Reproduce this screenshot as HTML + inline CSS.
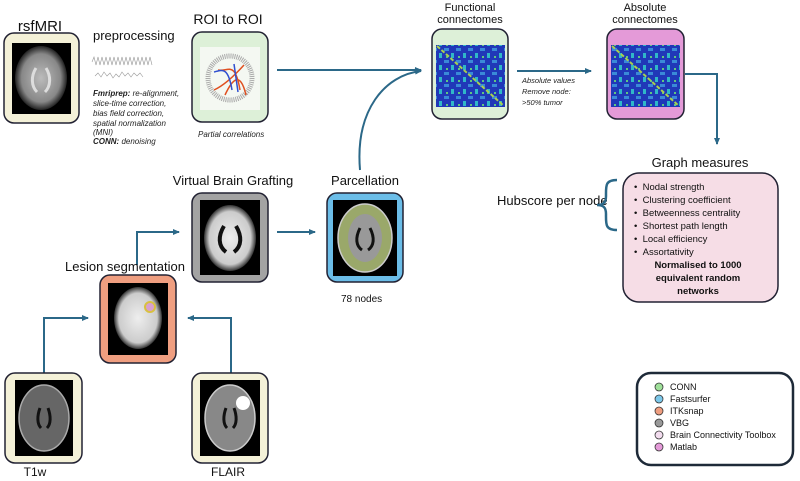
<!DOCTYPE html>
<html><head><meta charset="utf-8"><style>
body{margin:0;background:#fff;}
svg{display:block;font-family:"Liberation Sans",sans-serif;}
</style></head><body>
<svg width="800" height="481" viewBox="0 0 800 481" xmlns="http://www.w3.org/2000/svg">
<defs>
<marker id="a" markerWidth="8" markerHeight="8" refX="6" refY="4" orient="auto" markerUnits="userSpaceOnUse"><path d="M0,1 L7,4 L0,7 z" fill="#2b6888"/></marker>
<radialGradient id="brain" cx="50%" cy="50%" r="50%"><stop offset="0" stop-color="#bbb"/><stop offset="0.75" stop-color="#888"/><stop offset="1" stop-color="#222"/></radialGradient>
<radialGradient id="brainw" cx="50%" cy="50%" r="50%"><stop offset="0" stop-color="#eee"/><stop offset="0.8" stop-color="#ccc"/><stop offset="1" stop-color="#333"/></radialGradient>
<pattern id="mat" width="12" height="12" patternUnits="userSpaceOnUse"><rect width="12" height="12" fill="#2038b8"/><rect x="0" y="0" width="5" height="3" fill="#3a8ad8"/><rect x="7" y="5" width="3" height="5" fill="#30b8c8"/><rect x="2" y="8" width="2" height="2" fill="#60c880"/></pattern>
</defs>
<g fill="none" stroke="#2b6888" stroke-width="2">
<path d="M277,70 H421" marker-end="url(#a)"/>
<path d="M360,170 C355,110 385,75 421,71" marker-end="url(#a)"/>
<path d="M517,71 H591" marker-end="url(#a)"/>
<path d="M685,74 H717 V144" marker-end="url(#a)"/>
<path d="M44,373 V318 H88" marker-end="url(#a)"/>
<path d="M231,373 V318 H188" marker-end="url(#a)"/>
<path d="M137,265 V232 H179" marker-end="url(#a)"/>
<path d="M277,232 H315" marker-end="url(#a)"/>
</g>
<!-- rsfMRI -->
<text x="40" y="31" font-size="15" text-anchor="middle" fill="#111">rsfMRI</text>
<rect x="4" y="33" width="75" height="90" rx="10" fill="#f4f1d8" stroke="#223" stroke-width="1.5"/>
<rect x="12" y="43" width="59" height="71" fill="#000"/>
<ellipse cx="41" cy="78" rx="26" ry="32" fill="url(#brain)"/>
<path d="M36,68 C31,76 31,86 37,92 M46,68 C51,76 51,86 45,92" fill="none" stroke="#ddd" stroke-width="3"/>
<text x="93" y="40" font-size="13" fill="#111">preprocessing</text>
<path d="M92,62 l2,-5 2,8 2,-8 2,8 2,-8 2,8 2,-8 2,8 2,-8 2,8 2,-8 2,8 2,-8 2,8 2,-8 2,8 2,-8 2,8 2,-8 2,8 2,-8 2,8 2,-8 2,8 2,-8 2,8 2,-8 2,8 2,-8 2,8" fill="none" stroke="#999" stroke-width=".6"/>
<path d="M95,76 l3,-3 3,4 3,-5 3,4 3,-3 3,5 3,-4 3,3 3,-5 3,4 3,-3 3,4 3,-4 3,3 3,-3 3,4" fill="none" stroke="#999" stroke-width=".6"/>
<g font-size="8" font-style="italic" fill="#222">
<text x="93" y="96"><tspan font-weight="bold">Fmriprep:</tspan> re-alignment,</text>
<text x="93" y="106">slice-time correction,</text>
<text x="93" y="116">bias field correction,</text>
<text x="93" y="126">spatial normalization</text>
<text x="93" y="135">(MNI)</text>
<text x="93" y="144"><tspan font-weight="bold">CONN:</tspan> denoising</text>
</g>
<!-- ROI -->
<text x="228" y="24" font-size="14" text-anchor="middle" fill="#111">ROI to ROI</text>
<rect x="192" y="32" width="76" height="90" rx="10" fill="#ddf0d8" stroke="#223" stroke-width="1.5"/>
<rect x="200" y="47" width="60" height="63" fill="#f4f8f2"/>
<circle cx="230" cy="78" r="22" fill="none" stroke="#aaa" stroke-width="5" stroke-dasharray="1 1"/>
<path d="M218,70 C228,72 235,60 240,90 M225,95 C232,80 240,70 246,95 M214,90 C225,85 235,75 244,65" fill="none" stroke="#e05020" stroke-width="1.5"/>
<path d="M214,72 C222,70 228,66 232,90 M234,64 L238,92" fill="none" stroke="#3050d0" stroke-width="1.5"/>
<text x="198" y="137" font-size="8" font-style="italic" fill="#222">Partial correlations</text>
<!-- Functional -->
<text x="470" y="11" font-size="11" text-anchor="middle" fill="#111">Functional</text>
<text x="470" y="23" font-size="11" text-anchor="middle" fill="#111">connectomes</text>
<rect x="432" y="29" width="76" height="90" rx="10" fill="#ddf0d8" stroke="#223" stroke-width="1.5"/>
<rect x="436" y="45" width="69" height="62" fill="url(#mat)"/>
<path d="M437,46 L504,106" stroke="#a8d050" stroke-width="2" stroke-dasharray="4 2"/>
<text x="522" y="83" font-size="7.5" font-style="italic" fill="#222">Absolute values</text>
<text x="522" y="94" font-size="7.5" font-style="italic" fill="#222">Remove node:</text>
<text x="522" y="105" font-size="7.5" font-style="italic" fill="#222">&gt;50% tumor</text>
<!-- Absolute -->
<text x="645" y="11" font-size="11" text-anchor="middle" fill="#111">Absolute</text>
<text x="645" y="23" font-size="11" text-anchor="middle" fill="#111">connectomes</text>
<rect x="607" y="29" width="77" height="90" rx="10" fill="#e49ad8" stroke="#223" stroke-width="1.5"/>
<rect x="611" y="45" width="69" height="62" fill="url(#mat)"/>
<path d="M612,46 L679,106" stroke="#a8d050" stroke-width="2" stroke-dasharray="4 2"/>
<!-- Graph -->
<text x="700" y="167" font-size="13" text-anchor="middle" fill="#111">Graph measures</text>
<rect x="623" y="173" width="155" height="129" rx="16" fill="#f6dde6" stroke="#223" stroke-width="1.5"/>
<g font-size="9.5" fill="#111">
<text x="634" y="190">•&#160;&#160;Nodal strength</text>
<text x="634" y="203">•&#160;&#160;Clustering coefficient</text>
<text x="634" y="216">•&#160;&#160;Betweenness centrality</text>
<text x="634" y="229">•&#160;&#160;Shortest path length</text>
<text x="634" y="242">•&#160;&#160;Local efficiency</text>
<text x="634" y="255">•&#160;&#160;Assortativity</text>
<g font-weight="bold" text-anchor="middle"><text x="698" y="268">Normalised to 1000</text><text x="698" y="281">equivalent random</text><text x="698" y="294">networks</text></g>
</g>
<text x="497" y="205" font-size="13" fill="#111">Hubscore per node</text>
<path d="M617,180 C605,180 606,186 606,196 C606,203 603,205 597,205 C603,205 606,207 606,214 C606,224 605,230 617,230" fill="none" stroke="#2b6888" stroke-width="2.5"/>
<!-- VBG -->
<text x="233" y="185" font-size="13" text-anchor="middle" fill="#111">Virtual Brain Grafting</text>
<rect x="192" y="193" width="76" height="89" rx="10" fill="#a3a3a3" stroke="#223" stroke-width="1.5"/>
<rect x="200" y="200" width="60" height="75" fill="#000"/>
<ellipse cx="230" cy="238" rx="26" ry="33" fill="url(#brainw)"/>
<path d="M224,226 C218,236 218,246 226,252 M236,226 C242,236 242,246 234,252" fill="none" stroke="#111" stroke-width="4"/>
<!-- Parcellation -->
<text x="365" y="185" font-size="13" text-anchor="middle" fill="#111">Parcellation</text>
<rect x="327" y="193" width="76" height="89" rx="10" fill="#6bbde8" stroke="#223" stroke-width="1.5"/>
<rect x="333" y="200" width="64" height="76" fill="#000"/>
<ellipse cx="365" cy="238" rx="27" ry="34" fill="#9aa86a" stroke="#ccc" stroke-width="1.5"/>
<ellipse cx="365" cy="238" rx="17" ry="24" fill="#999"/>
<path d="M360,228 C355,238 356,246 362,250 M370,228 C375,238 374,246 368,250" fill="none" stroke="#111" stroke-width="3"/>
<text x="341" y="302" font-size="10" fill="#111">78 nodes</text>
<!-- Lesion -->
<text x="125" y="271" font-size="13" text-anchor="middle" fill="#111">Lesion segmentation</text>
<rect x="100" y="275" width="76" height="88" rx="10" fill="#ef9e80" stroke="#223" stroke-width="1.5"/>
<rect x="108" y="283" width="60" height="72" fill="#000"/>
<ellipse cx="138" cy="318" rx="24" ry="31" fill="url(#brainw)"/>
<circle cx="150" cy="307" r="5" fill="#d8a0d0" stroke="#d8c040" stroke-width="2"/>
<!-- T1w -->
<rect x="5" y="373" width="77" height="90" rx="10" fill="#f4f1d8" stroke="#223" stroke-width="1.5"/>
<rect x="15" y="380" width="58" height="76" fill="#000"/>
<ellipse cx="44" cy="418" rx="25" ry="33" fill="#666" stroke="#aaa" stroke-width="1.5"/>
<path d="M40,408 C37,416 37,424 41,428 M48,408 C51,416 51,424 47,428" fill="none" stroke="#111" stroke-width="3"/>
<text x="35" y="476" font-size="12" text-anchor="middle" fill="#111">T1w</text>
<!-- FLAIR -->
<rect x="192" y="373" width="76" height="90" rx="10" fill="#f4f1d8" stroke="#223" stroke-width="1.5"/>
<rect x="200" y="380" width="60" height="76" fill="#000"/>
<ellipse cx="230" cy="418" rx="25" ry="33" fill="#888" stroke="#ccc" stroke-width="1.5"/>
<circle cx="243" cy="403" r="7" fill="#fff"/>
<path d="M226,408 C223,416 223,424 227,428 M234,408 C237,416 237,424 233,428" fill="none" stroke="#111" stroke-width="3"/>
<text x="228" y="476" font-size="12" text-anchor="middle" fill="#111">FLAIR</text>
<!-- Legend -->
<rect x="637" y="373" width="156" height="92" rx="14" fill="#fff" stroke="#1e2a38" stroke-width="2.5"/>
<g font-size="9" fill="#111" stroke="#333" stroke-width=".8">
<circle cx="659" cy="387" r="4" fill="#9fe09a"/><circle cx="659" cy="399" r="4" fill="#7cc8ea"/><circle cx="659" cy="411" r="4" fill="#ef9e80"/><circle cx="659" cy="423" r="4" fill="#999"/><circle cx="659" cy="435" r="4" fill="#f2dcee"/><circle cx="659" cy="447" r="4" fill="#e49ad8"/>
</g>
<g font-size="9" fill="#111">
<text x="670" y="390">CONN</text><text x="670" y="402">Fastsurfer</text><text x="670" y="414">ITKsnap</text><text x="670" y="426">VBG</text><text x="670" y="438">Brain Connectivity Toolbox</text><text x="670" y="450">Matlab</text>
</g>
</svg>
</body></html>
